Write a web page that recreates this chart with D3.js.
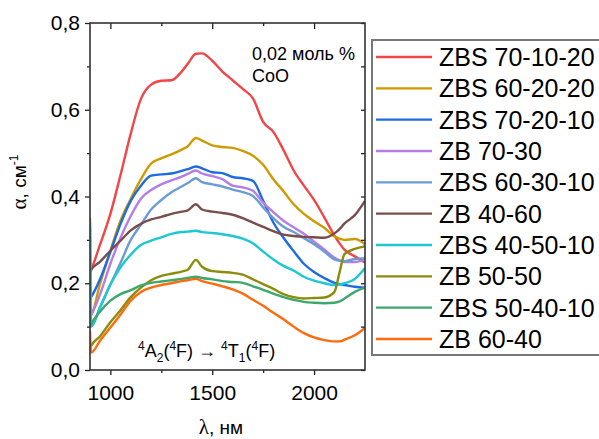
<!DOCTYPE html>
<html>
<head>
<meta charset="utf-8">
<script src="https://cdn.jsdelivr.net/npm/d3@7"></script>
<style>
    body { margin: 0; background: #fff; }
    svg { display: block; font-family: "Liberation Sans", Arial, sans-serif; }
</style>
</head>
<body>
<svg id="chart" width="599" height="439"></svg>
<script>
"use strict";



//
// Data
//

var wavelengths = [900, 905, 950, 1000, 1050, 1100, 1150, 1200, 1250, 1300, 1350, 1380, 1420, 1450, 1500,
    1550, 1600, 1650, 1700, 1750, 1800, 1850, 1900, 1950, 2000, 2050, 2100, 2125, 2150, 2200, 2250];

var zbs701020 = [.228, .232, .29, .36, .45, .545, .625, .658, .667, .668, .688, .706, .729, .73, .713,
    .688, .668, .648, .626, .572, .549, .507, .46, .425, .392, .352, .31, .292, .277, .262, .248];
var zbs602020 = [.35, .13, .20, .275, .345, .395, .44, .476, .488, .497, .508, .516, .535, .529, .518,
    .514, .512, .505, .494, .473, .44, .412, .382, .36, .343, .328, .308, .303, .300, .302, .29];
var zbs702010 = [.165, .168, .21, .272, .337, .39, .425, .448, .451, .453, .459, .463, .469, .465, .456,
    .454, .445, .442, .436, .39, .34, .305, .274, .245, .226, .212, .201, .198, .196, .192, .19];
var zb7030 = [.12, .125, .175, .245, .305, .355, .395, .415, .428, .437, .446, .452, .46, .453, .447,
    .44, .425, .421, .413, .386, .364, .344, .329, .314, .296, .278, .259, .253, .249, .249, .254];
var zbs603010 = [.33, .10, .145, .197, .247, .30, .335, .37, .392, .41, .423, .431, .442, .433, .428,
    .423, .416, .41, .401, .375, .35, .33, .318, .304, .29, .273, .255, .252, .251, .256, .258];
var zb4060 = [.225, .23, .25, .275, .298, .322, .337, .347, .353, .36, .365, .368, .382, .37, .365,
    .362, .358, .35, .34, .33, .32, .312, .309, .307, .306, .305, .315, .325, .338, .357, .39];
var zbs405010 = [.34, .10, .145, .197, .237, .266, .288, .298, .306, .314, .318, .319, .321, .318, .316,
    .313, .309, .303, .292, .273, .255, .24, .229, .215, .206, .2, .196, .197, .2, .21, .235];
var zb5050 = [.05, .055, .078, .11, .138, .168, .19, .207, .217, .222, .227, .231, .254, .238, .228,
    .226, .224, .22, .209, .198, .187, .175, .168, .165, .166, .167, .18, .225, .268, .279, .285];
var zbs504010 = [.10, .105, .135, .16, .175, .184, .195, .201, .204, .207, .21, .212, .215, .212, .209,
    .205, .203, .201, .193, .185, .176, .168, .162, .157, .155, .154, .155, .158, .165, .18, .19];
var zb6040 = [.09, .04, .068, .098, .128, .16, .18, .19, .196, .2, .205, .207, .21, .205, .199,
    .193, .186, .176, .162, .148, .132, .117, .1, .085, .075, .069, .066, .066, .07, .08, .097];

var seriesNames = ["ZBS 70-10-20", "ZBS 60-20-20", "ZBS 70-20-10", "ZB 70-30", "ZBS 60-30-10",
    "ZB 40-60", "ZBS 40-50-10", "ZB 50-50", "ZBS 50-40-10", "ZB 60-40"];
var seriesValues = [zbs701020, zbs602020, zbs702010, zb7030, zbs603010,
    zb4060, zbs405010, zb5050, zbs504010, zb6040];
var seriesColors = ["#F24646", "#CF9A00", "#1C6BE0", "#B47EE6", "#6C9BD3",
    "#7B4C4C", "#1EC8D2", "#8C8C0C", "#3DA86B", "#FF6A0C"];

var xTicks = [1000, 1500, 2000];
var xTickLabels = ["1000", "1500", "2000"];
var xMinorTicks = [1250, 1750];
var yTicks = [0, 0.2, 0.4, 0.6, 0.8];
var yTickLabels = ["0,0", "0,2", "0,4", "0,6", "0,8"];
var yMinorTicks = [0.1, 0.3, 0.5, 0.7];



//
// Layout
//

var plot = { left: 90, top: 23, width: 275, height: 347 };

var svg = d3.select("#chart");

var x = d3.scaleLinear().domain([900, 2250]).range([0, plot.width]);
var y = d3.scaleLinear().domain([0, 0.8]).range([plot.height, 0]);

var g = svg.append("g")
    .attr("transform", "translate(" + plot.left + "," + plot.top + ")");

g.append("clipPath").attr("id", "plotClip")
    .append("rect")
    .attr("width", plot.width)
    .attr("height", plot.height);



//
// Curves
//

var line = d3.line()
    .x(function (d) { return x(d[0]); })
    .y(function (d) { return y(d[1]); })
    .curve(d3.curveMonotoneX);

g.append("g")
    .attr("clip-path", "url(#plotClip)")
    .selectAll("path")
    .data(seriesValues)
    .enter()
    .append("path")
    .attr("d", function (d) {
        return line(d.map(function (v, i) { return [wavelengths[i], v]; }));
    })
    .style("fill", "none")
    .style("stroke", function (d, i) { return seriesColors[i]; })
    .style("stroke-width", 2.4)
    .style("stroke-linejoin", "round");



//
// Axes
//

function styleAxis (sel) {
    sel.select(".domain").remove();
    sel.selectAll("line").style("stroke", "#222").style("stroke-width", 1.3);
    sel.selectAll("text")
        .style("font-size", "21px")
        .style("fill", "#000")
        .style("font-family", "\"Liberation Sans\", Arial, sans-serif");
}

g.append("g")
    .call(d3.axisLeft(y).tickValues(yTicks).tickSize(5).tickPadding(5)
        .tickFormat(function (d, i) { return yTickLabels[i]; }))
    .call(styleAxis);

g.append("g")
    .call(d3.axisLeft(y).tickValues(yMinorTicks).tickSize(3).tickFormat(""))
    .call(styleAxis);

g.append("g")
    .attr("transform", "translate(" + plot.width + ",0)")
    .call(d3.axisRight(y).tickValues(yTicks.concat(yMinorTicks)).tickSize(-4).tickFormat(""))
    .call(styleAxis);

g.append("g")
    .attr("transform", "translate(0," + plot.height + ")")
    .call(d3.axisBottom(x).tickValues(xTicks).tickSize(5).tickPadding(10)
        .tickFormat(function (d, i) { return xTickLabels[i]; }))
    .call(styleAxis);

g.append("g")
    .attr("transform", "translate(0," + plot.height + ")")
    .call(d3.axisBottom(x).tickValues(xMinorTicks).tickSize(3).tickFormat(""))
    .call(styleAxis);

g.append("g")
    .call(d3.axisTop(x).tickValues(xTicks).tickSize(-6).tickFormat(""))
    .call(styleAxis);

g.append("g")
    .call(d3.axisTop(x).tickValues(xMinorTicks).tickSize(-3).tickFormat(""))
    .call(styleAxis);

// frame
g.append("rect")
    .attr("width", plot.width)
    .attr("height", plot.height)
    .style("fill", "none")
    .style("stroke", "#333")
    .style("stroke-width", 1.6);



//
// Axis titles
//

var yTitle = svg.append("text")
    .attr("transform", "translate(26,182) rotate(-90)")
    .attr("text-anchor", "middle")
    .style("font-size", "19px");
yTitle.append("tspan").style("font-family", "\"Liberation Serif\", serif").style("font-size", "21px").text("α");
yTitle.append("tspan").text(", см");
yTitle.append("tspan").attr("dy", -8).style("font-size", "12px").text("-1");

var xTitle = svg.append("text")
    .attr("x", 221)
    .attr("y", 434)
    .attr("text-anchor", "middle")
    .style("font-size", "19px");
xTitle.append("tspan").style("font-family", "\"Liberation Serif\", serif").style("font-size", "21px").text("λ");
xTitle.append("tspan").text(", нм");



//
// Annotations
//

svg.append("text").attr("x", 252).attr("y", 60).style("font-size", "18px").text("0,02 моль %");
svg.append("text").attr("x", 252).attr("y", 82).style("font-size", "18px").text("CoO");

var term = svg.append("text")
    .attr("x", 138)
    .attr("y", 357)
    .style("font-size", "18px");

function addTermPart (sup, main, sub, sup2, inner) {
    term.append("tspan").attr("dy", -7).style("font-size", "12px").text(sup);
    term.append("tspan").attr("dy", 7).text(main);
    if (sub) {
        term.append("tspan").attr("dy", 5).style("font-size", "12px").text(sub);
        term.append("tspan").attr("dy", -5).text("(");
    } else {
        term.append("tspan").text("(");
    }
    term.append("tspan").attr("dy", -7).style("font-size", "12px").text(sup2);
    term.append("tspan").attr("dy", 7).text(inner + ")");
}

addTermPart("4", "A", "2", "4", "F");
term.append("tspan").text(" → ");
addTermPart("4", "T", "1", "4", "F");



//
// Legend
//

var legend = svg.append("g");

legend.append("rect")
    .attr("x", 372)
    .attr("y", 40)
    .attr("width", 240)
    .attr("height", 315)
    .style("fill", "#fff")
    .style("stroke", "#777")
    .style("stroke-width", 2);

var rowY = d3.scaleLinear().domain([0, 9]).range([57, 339]);

var rows = legend.selectAll("g.row")
    .data(seriesNames)
    .enter()
    .append("g")
    .attr("class", "row")
    .attr("transform", function (d, i) { return "translate(0," + rowY(i) + ")"; });

rows.append("line")
    .attr("x1", 376)
    .attr("x2", 432)
    .style("stroke", function (d, i) { return seriesColors[i]; })
    .style("stroke-width", 2.4);

rows.append("text")
    .attr("x", 439)
    .attr("dy", "0.36em")
    .style("font-size", "25px")
    .text(function (d) { return d; });

</script>
</body>
</html>
